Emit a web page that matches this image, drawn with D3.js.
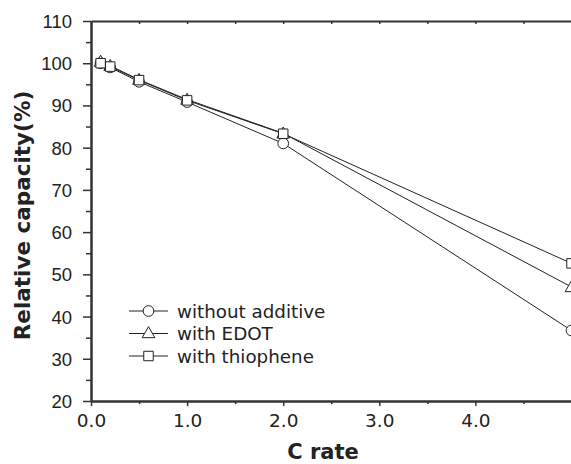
<!DOCTYPE html>
<html><head><meta charset="utf-8">
<script src="https://cdn.jsdelivr.net/npm/d3@7"></script>
<style>body{margin:0;background:#fff}svg{display:block}</style>
</head><body>
<svg id="c" width="571" height="464"></svg>
<script>
const cRates = [0.1, 0.2, 0.5, 1.0, 2.0, 5.0];
const withoutAdditive = [100.0, 99.0, 95.6, 90.8, 81.0, 36.7];
const withEDOT = [100.4, 99.4, 96.1, 91.4, 83.4, 47.0];
const withThiophene = [100.0, 99.2, 96.0, 91.2, 83.3, 52.6];
const seriesNames = ["without additive", "with EDOT", "with thiophene"];
const seriesSymbols = ["circle", "triangle", "square"];
const xTicks = [0, 1, 2, 3, 4];
const yTicks = [20, 30, 40, 50, 60, 70, 80, 90, 100, 110];

const svg = d3.select("#c");
const mL = 91, mR = 571.5, mT = 21, mB = 401;
const x = d3.scaleLinear().domain([0, 5]).range([mL, mR]);
const y = d3.scaleLinear().domain([20, 110]).range([mB, mT]);
const ink = "#333";

// axes
const xAxis = svg.append("g").attr("transform", `translate(0,${mB})`)
  .call(d3.axisBottom(x).tickValues(xTicks).tickFormat(d3.format(".1f")).tickSize(5).tickSizeOuter(0));
const xMinor = svg.append("g").attr("transform", `translate(0,${mB})`)
  .call(d3.axisBottom(x).tickValues([0.5,1.5,2.5,3.5,4.5]).tickFormat("").tickSize(3).tickSizeOuter(0));
const xTop = svg.append("g").attr("transform", `translate(0,${mT})`)
  .call(d3.axisBottom(x).tickValues([0.5,1,1.5,2,2.5,3,3.5,4,4.5]).tickFormat("").tickSize(3).tickSizeOuter(0));
const yAxis = svg.append("g").attr("transform", `translate(${mL},0)`)
  .call(d3.axisLeft(y).tickValues(yTicks).tickSize(8).tickSizeOuter(0).tickPadding(11));
const yMinor = svg.append("g").attr("transform", `translate(${mL},0)`)
  .call(d3.axisLeft(y).tickValues(d3.range(25, 110, 10)).tickFormat("").tickSize(5).tickSizeOuter(0));
[xAxis, xMinor, xTop, yAxis, yMinor].forEach(g => {
  g.selectAll(".domain").attr("stroke", ink).attr("stroke-width", 2);
  g.selectAll(".tick line").attr("stroke", ink).attr("stroke-width", 1.5);
});
xAxis.selectAll("text").attr("font-family", "DejaVu Sans").attr("font-size", 18.5).attr("fill", "#222").attr("dy", "0.95em");
yAxis.selectAll("text").attr("font-family", "Liberation Sans, Arial").attr("font-size", 18.5).attr("fill", "#222").attr("dy", "0.35em");

// titles
svg.append("text").attr("x", 323).attr("y", 459).attr("text-anchor", "middle")
  .attr("font-family", "DejaVu Sans").attr("font-weight", "bold").attr("font-size", 21).attr("fill", "#222").text("C rate");
svg.append("text").attr("transform", "translate(30,215.5) rotate(-90)").attr("text-anchor", "middle")
  .attr("font-family", "DejaVu Sans").attr("font-weight", "bold").attr("font-size", 21.5).attr("fill", "#222").text("Relative capacity(%)");

const data = [withoutAdditive, withEDOT, withThiophene];
const sym = {circle: d3.symbolCircle, triangle: d3.symbolTriangle, square: d3.symbolSquare};
const sizes = {circle: 90, triangle: 70, square: 90};
const line = d3.line().x((d, i) => x(cRates[i])).y(d => y(d));
const plot = svg.append("g");
data.forEach((vals, k) => {
  plot.append("path").attr("d", line(vals)).attr("fill", "none").attr("stroke", "#222").attr("stroke-width", 1);
});
data.forEach((vals, k) => {
  const s = seriesSymbols[k];
  plot.selectAll(null).data(vals).join("path")
    .attr("transform", (d, i) => `translate(${x(cRates[i])},${y(d) + (s === "triangle" ? 1 : 0)})`)
    .attr("d", d3.symbol(sym[s], sizes[s]))
    .attr("fill", "#fff").attr("stroke", "#222").attr("stroke-width", 1);
});

// legend
const lg = svg.append("g");
seriesNames.forEach((name, k) => {
  const yy = 311 + k * 22.5;
  const s = seriesSymbols[k];
  lg.append("line").attr("x1", 129).attr("x2", 168).attr("y1", yy).attr("y2", yy).attr("stroke", "#222").attr("stroke-width", 1);
  lg.append("path").attr("transform", `translate(148.5,${yy + (s === "triangle" ? 0.5 : 0)})`)
    .attr("d", d3.symbol(sym[s], sizes[s])).attr("fill", "#fff").attr("stroke", "#222").attr("stroke-width", 1);
  lg.append("text").attr("x", 177).attr("y", yy).attr("dy", "0.36em")
    .attr("font-family", "DejaVu Sans").attr("font-size", 18.3).attr("fill", "#222").text(name);
});
</script>
</body></html>
